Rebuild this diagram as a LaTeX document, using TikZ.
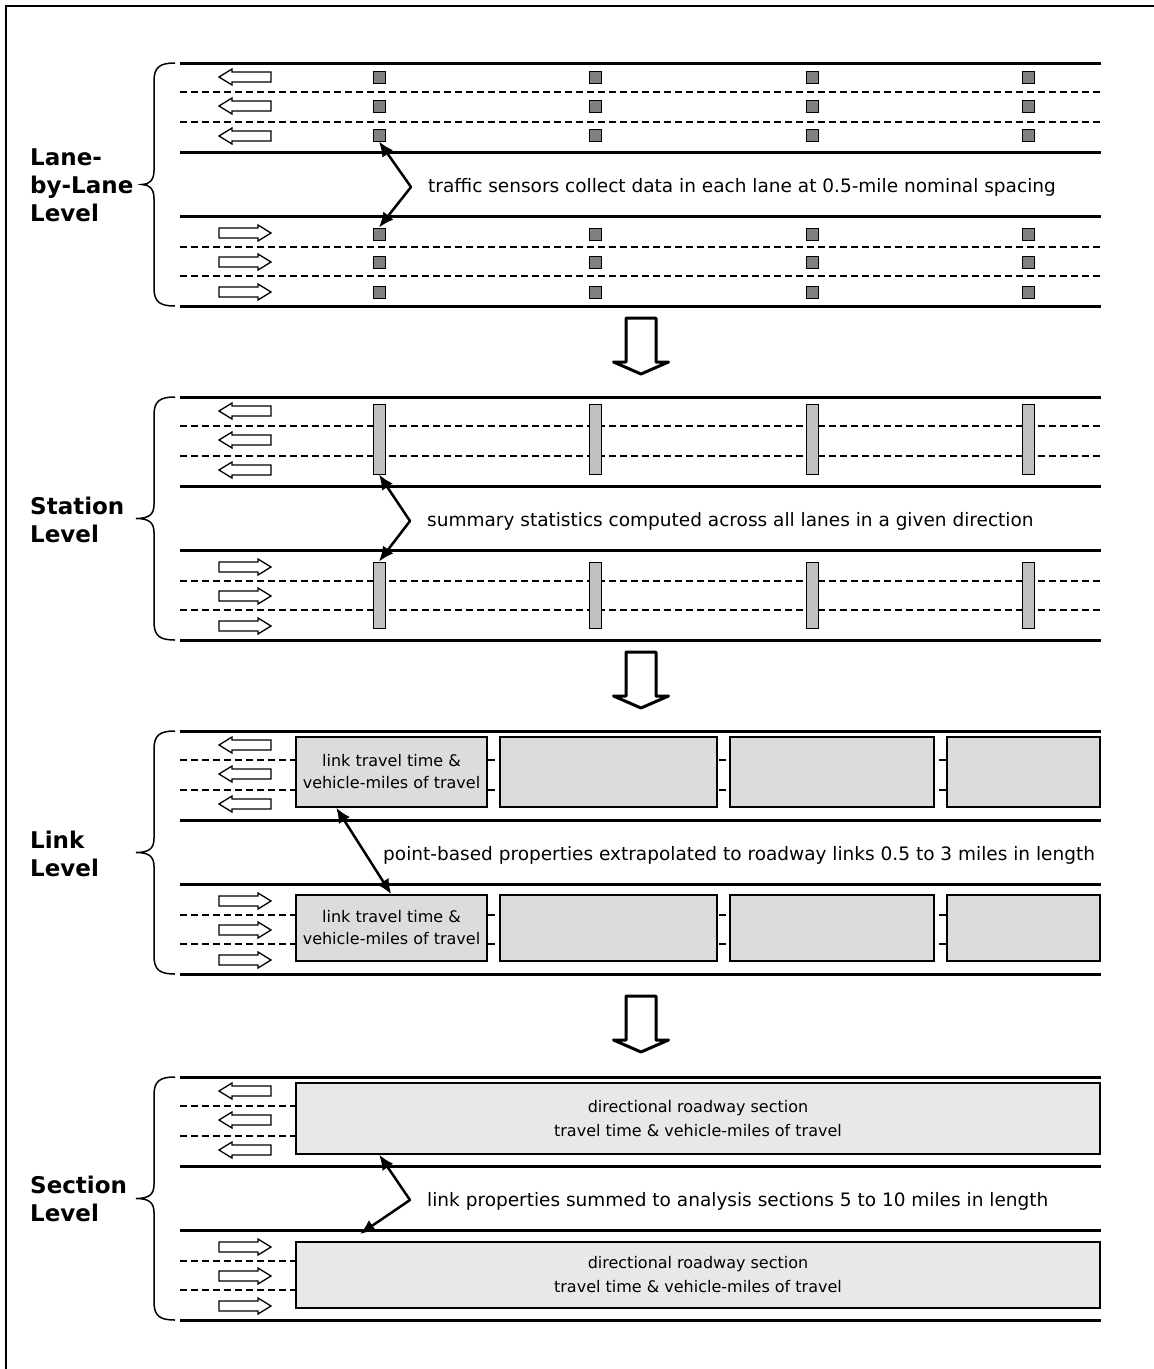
\documentclass[tikz,border=0pt]{standalone}
\usepackage{fontspec}
\setmainfont{DejaVu Sans}
\usetikzlibrary{arrows.meta,calc}
\definecolor{sensorgray}{HTML}{808080}
\definecolor{bargray}{HTML}{C0C0C0}
\definecolor{linkgray}{HTML}{DCDCDC}
\definecolor{secgray}{HTML}{E8E8E8}
\tikzset{
  road/.style={line width=3pt},
  lanedash/.style={line width=2.2pt, dash pattern=on 7pt off 4pt},
  lanearrow/.style={draw, line width=1.3pt, fill=white, line join=miter},
  sensor/.style={draw, line width=1pt, fill=sensorgray, minimum size=12pt, inner sep=0pt},
  stationbar/.style={draw, line width=1pt, fill=bargray, minimum width=12pt, inner sep=0pt},
  linkbox/.style={draw, line width=1.5pt, fill=linkgray, inner sep=0pt, align=center, font=\fontsize{16}{22}\selectfont},
  secbox/.style={draw, line width=1.5pt, fill=secgray, inner sep=0pt, align=center, font=\fontsize{16}{24}\selectfont},
  desc/.style={anchor=west, inner sep=0pt, font=\fontsize{18.5}{22}\selectfont},
  levellabel/.style={anchor=west, align=left, inner sep=0pt, font=\fontsize{23}{28}\selectfont\bfseries},
  dblarrow/.style={line width=2.5pt, line join=round, {Latex[length=15pt,width=13pt]}-{Latex[length=15pt,width=13pt]}},
  bracepath/.style={line width=1.5pt},
  downarrow/.style={draw, line width=3pt, fill=white, line join=round},
  framepath/.style={line width=2.5pt}
}
% road with lines: #1 = top y
\newcommand\myroad[1]{%
  \draw[road] (180,#1) -- (1101,#1);
  \draw[lanedash] (180,#1+29) -- (1101,#1+29);
  \draw[lanedash] (180,#1+59) -- (1101,#1+59);
  \draw[road] (180,#1+89) -- (1101,#1+89);
  \draw[road] (180,#1+153) -- (1101,#1+153);
  \draw[lanedash] (180,#1+184) -- (1101,#1+184);
  \draw[lanedash] (180,#1+213) -- (1101,#1+213);
  \draw[road] (180,#1+243) -- (1101,#1+243);
}
% lane arrows
\newcommand\myarrowL[1]{\draw[lanearrow] (219,#1) -- (232,#1-8) -- (232,#1-5) -- (271,#1-5) -- (271,#1+5) -- (232,#1+5) -- (232,#1+8) -- cycle;}
\newcommand\myarrowR[1]{\draw[lanearrow] (271,#1) -- (258,#1-8) -- (258,#1-5) -- (219,#1-5) -- (219,#1+5) -- (258,#1+5) -- (258,#1+8) -- cycle;}
\newcommand\mylanearrows[1]{%
  \myarrowL{#1+14}\myarrowL{#1+43}\myarrowL{#1+73}%
  \myarrowR{#1+170}\myarrowR{#1+199}\myarrowR{#1+229}%
}
% brace: #1 top y, #2 tip x
\newcommand\mybrace[2]{%
  \draw[bracepath] (175,#1) .. controls (160,#1) and (154,#1+4) .. (154,#1+18)
    -- (154,#1+107.5) .. controls (154,#1+117.5) and (149,#1+121.5) .. (#2,#1+121.5)
    .. controls (149,#1+121.5) and (154,#1+125.5) .. (154,#1+135.5)
    -- (154,#1+225) .. controls (154,#1+239) and (160,#1+243) .. (175,#1+243);
}
% big down arrow: #1 = top y
\newcommand\mydownarrow[1]{\draw[downarrow] (626,#1) -- (656,#1) -- (656,#1+44) -- (668.5,#1+44) -- (641,#1+56) -- (613.5,#1+44) -- (626,#1+44) -- cycle;}

\begin{document}
\begin{tikzpicture}[x=1pt,y=-1pt]
\useasboundingbox (0,0) rectangle (1154,1369);
\draw[framepath] (6,1369) -- (6,6) -- (1154,6);

% ---------- Panel 1: Lane-by-Lane ----------
\myroad{63}
\mylanearrows{63}
\mybrace{63}{142}
\node[levellabel] (lab1) at (30,185) {Lane-\\by-Lane\\Level};
\foreach \x in {379,595,812,1028}{
  \foreach \y in {77,106,135,234,262,292}{
    \node[sensor] (s-\x-\y) at (\x,\y) {};
  }
}
\coordinate (bend1) at (411,187);
\draw[dblarrow] (s-379-135.south) -- (bend1) -- (s-379-234.north);
\node[desc] (d1) at (428,187) {traffic sensors collect data in each lane at 0.5-mile nominal spacing};

\mydownarrow{318}

% ---------- Panel 2: Station ----------
\myroad{397}
\mylanearrows{397}
\mybrace{397}{136}
\node[levellabel] (lab2) at (30,520) {Station\\Level};
\foreach \x in {379,595,812,1028}{
  \node[stationbar, minimum height=70pt] (bu-\x) at (\x,439) {};
  \node[stationbar, minimum height=66pt] (bl-\x) at (\x,595) {};
}
\coordinate (bend2) at (410,521);
\draw[dblarrow] (bu-379.south) -- (bend2) -- (bl-379.north);
\node[desc] (d2) at (427,521) {summary statistics computed across all lanes in a given direction};

\mydownarrow{652}

% ---------- Panel 3: Link ----------
\myroad{731}
\mylanearrows{731}
\mybrace{731}{136}
\node[levellabel] (lab3) at (30,854) {Link\\Level};
\node[linkbox, minimum width=191pt, minimum height=70pt] (lu1) at (391.5,772) {link travel time \&\\vehicle-miles of travel};
\node[linkbox, minimum width=217pt, minimum height=70pt] (lu2) at (608.5,772) {};
\node[linkbox, minimum width=204pt, minimum height=70pt] (lu3) at (832,772) {};
\node[linkbox, minimum width=153pt, minimum height=70pt] (lu4) at (1023.5,772) {};
\node[linkbox, minimum width=191pt, minimum height=66pt] (ll1) at (391.5,928) {link travel time \&\\vehicle-miles of travel};
\node[linkbox, minimum width=217pt, minimum height=66pt] (ll2) at (608.5,928) {};
\node[linkbox, minimum width=204pt, minimum height=66pt] (ll3) at (832,928) {};
\node[linkbox, minimum width=153pt, minimum height=66pt] (ll4) at (1023.5,928) {};
\draw[dblarrow] ([xshift=41pt]lu1.south west) -- ([xshift=96pt]ll1.north west);
\node[desc] (d3) at (383,855) {point-based properties extrapolated to roadway links 0.5 to 3 miles in length};

\mydownarrow{996}

% ---------- Panel 4: Section ----------
\myroad{1077}
\mylanearrows{1077}
\mybrace{1077}{136}
\node[levellabel] (lab4) at (30,1199) {Section\\Level};
\node[secbox, minimum width=804pt, minimum height=71pt] (su) at (698,1118.5) {directional roadway section\\travel time \& vehicle-miles of travel};
\node[secbox, minimum width=804pt, minimum height=66pt] (sl) at (698,1275) {directional roadway section\\travel time \& vehicle-miles of travel};
\coordinate (bend4) at (410,1200);
\coordinate (end4) at (360,1234);
\draw[dblarrow] ([xshift=84pt]su.south west) -- (bend4) -- (end4);
\node[desc] (d4) at (427,1201) {link properties summed to analysis sections 5 to 10 miles in length};
\end{tikzpicture}
\end{document}
